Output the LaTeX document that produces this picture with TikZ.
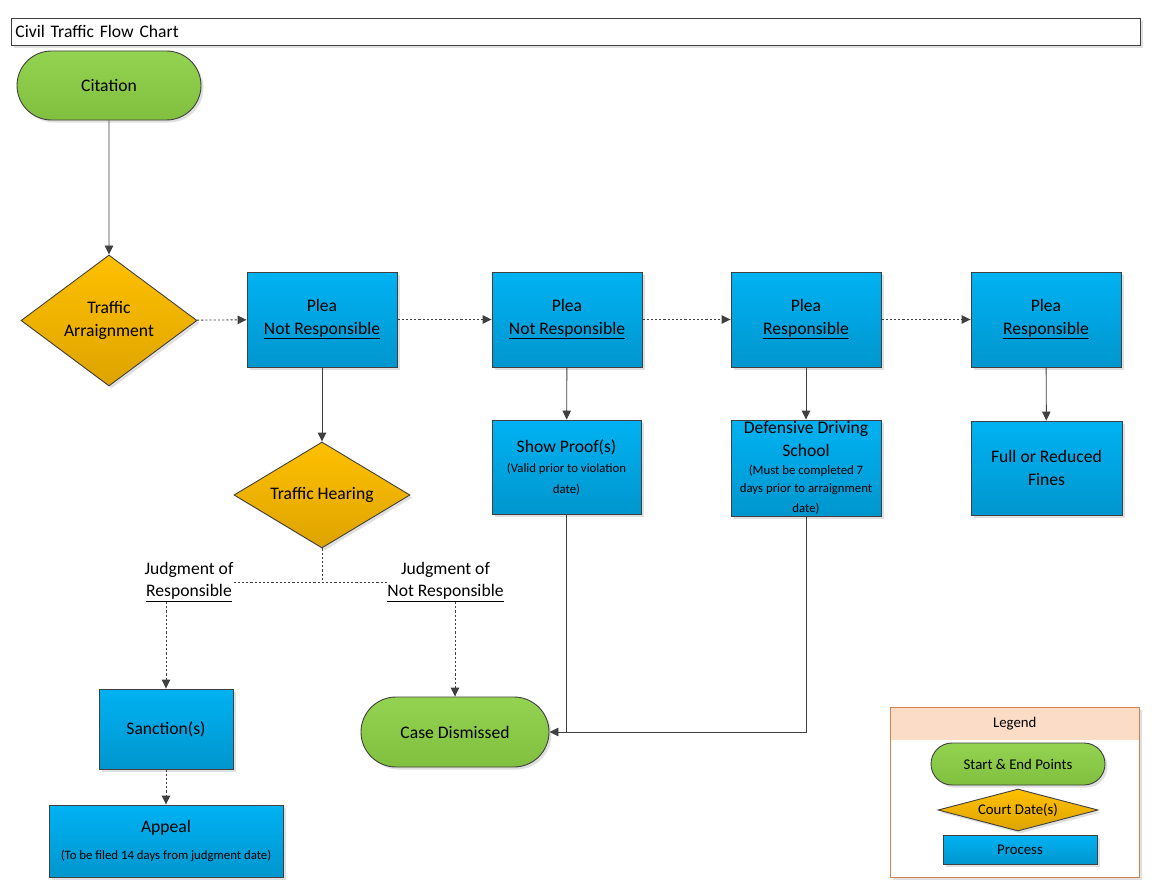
\documentclass[tikz,border=0pt]{standalone}
\usepackage{fontspec}
\setmainfont{Carlito}
\usepackage{tikz}
\usetikzlibrary{arrows.meta}
\usetikzlibrary{positioning, shapes.geometric, shapes.misc, shadows}
\definecolor{linegray}{HTML}{404040}
\definecolor{greentop}{HTML}{94D352}
\definecolor{greenbot}{HTML}{80C03E}
\definecolor{bluetop}{HTML}{00B2F2}
\definecolor{bluebot}{HTML}{0096CE}
\definecolor{ambertop}{HTML}{FFC000}
\definecolor{amberbot}{HTML}{DEA400}
\definecolor{legendline}{HTML}{D0834A}
\definecolor{legendpeach}{HTML}{FBDCC6}
\newcommand{\notefont}{\fontsize{12.8}{16}\selectfont}
\newcommand{\legendfont}{\fontsize{14.8}{18}\selectfont}
\tikzset{
soft shadow/.style = {drop shadow={shadow xshift=2.5pt,shadow yshift=-2.5pt,fill=black!20,opacity=0.6}},
start end/.style = { rounded rectangle, draw = linegray, line width = 0.9pt, top color = greentop, bottom color = greenbot, inner sep = 0pt, soft shadow },
court date/.style = { diamond, draw = linegray, line width = 0.9pt, top color = ambertop, bottom color = amberbot, inner sep = 0pt, align = center, soft shadow },
process/.style = { rectangle, draw = linegray, line width = 0.9pt, top color = bluetop, bottom color = bluebot, inner sep = 0pt, align = center, soft shadow },
plea/.style = { process, minimum width = 150pt, minimum height = 95pt },
outcome/.style = { inner sep = 0pt, align = center },
flow/.style = { draw = linegray, line width = 0.9pt, -{Triangle[length = 9pt, width = 8.5pt]} },
dot flow/.style = { flow, dash pattern = on 2.2pt off 2pt },
dot line/.style = { draw = linegray, line width = 0.9pt, dash pattern = on 2.2pt off 2pt },
}

\begin{document}
\begin{tikzpicture}[x = 1pt, y = -1pt, font = \fontsize{17.6}{22.5}\selectfont]
      \useasboundingbox (0, 0) rectangle (1159, 891);
      % title bar
      \node[draw = linegray, line width = 0.9pt, fill = white, soft shadow, anchor = north west, minimum width = 1129pt, minimum height = 27pt, text width = 1121pt, inner sep = 4pt, align = left] (title) at (11, 18) {Civil Traffic Flow Chart};
      % main flow
      \node[start end, minimum width = 184pt, minimum height = 69pt] (citation) at (109, 85.5) {Citation};
      \node[court date, minimum width = 176pt, minimum height = 131pt, aspect = 1.34] (arraign) at (109, 320.5) {Traffic\\Arraignment};
      \node[plea] (pleaA) at (322, 319.5) {Plea\\\underline{Not Responsible}};
      \node[plea] (pleaB) at (567, 319.5) {Plea\\\underline{Not Responsible}};
      \node[plea] (pleaC) at (806, 319.5) {Plea\\\underline{Responsible}};
      \node[plea] (pleaD) at (1046, 319.5) {Plea\\\underline{Responsible}};
      \node[court date, minimum width = 176pt, minimum height = 106pt, aspect = 1.66] (hearing) at (322, 495) {Traffic Hearing};
      \node[process, minimum width = 149pt, minimum height = 94pt] (proof) at (566.5, 467) {Show Proof(s)\\[-2pt]{\notefont (Valid prior to violation}\\[-2pt]{\notefont date)}};
      \node[process, minimum width = 150pt, minimum height = 96pt] (school) at (806, 468) {Defensive Driving\\School\\[-4pt]{\notefont (Must be completed 7}\\[-5pt]{\notefont days prior to arraignment}\\[-2pt]{\notefont date)}};
      \node[process, minimum width = 151pt, minimum height = 94pt] (fines) at (1046.5, 468) {Full or Reduced\\Fines};
      \node[outcome] (guilty) at (189, 582) {Judgment of\\\underline{Responsible}};
      \node[outcome] (cleared) at (445.5, 582) {Judgment of\\\underline{Not Responsible}};
      \node[process, minimum width = 134pt, minimum height = 80pt] (sanction) at (166, 729) {Sanction(s)};
      \node[process, minimum width = 234pt, minimum height = 72pt] (appeal) at (166, 841) {Appeal\\[4pt]{\notefont (To be filed 14 days from judgment date)}};
      \node[start end, minimum width = 188pt, minimum height = 70pt] (dismissed) at (455, 732) {Case Dismissed};
      % connectors
      \draw[flow] (citation) -- (arraign);
      \draw[dot flow] (arraign) -- (pleaA);
      \draw[dot flow] (pleaA) -- (pleaB);
      \draw[dot flow] (pleaB) -- (pleaC);
      \draw[dot flow] (pleaC) -- (pleaD);
      \draw[flow] (pleaA) -- (hearing);
      \draw[flow] (pleaB) -- (proof);
      \draw[flow] (pleaC) -- (school);
      \draw[flow] (pleaD) -- (fines);
      \draw[dot line] (hearing.south) -- (hearing.south |- guilty.east);
      \draw[dot line] (guilty.east) -- (cleared.west);
      \draw[dot flow] (sanction.north |- guilty.south) -- (sanction.north);
      \draw[dot flow] (dismissed.north |- cleared.south) -- (dismissed.north);
      \draw[dot flow] (sanction) -- (appeal);
      \draw[draw = linegray, line width = 0.9pt] (proof.south) -- (proof.south |- dismissed.east);
      \draw[flow] (school.south) |- (dismissed.east);
      % legend
      \node[draw = legendline, line width = 0.9pt, fill = white, soft shadow, anchor = north west, minimum width = 249pt, minimum height = 170pt] (legend) at (890, 707) {};
      \node[fill = legendpeach, anchor = north west, minimum width = 247.5pt, minimum height = 32pt, inner sep = 0pt, font = \legendfont] (legendtitle) at (890.8, 707.8) {Legend};
      \node[start end, minimum width = 174pt, minimum height = 42pt, font = \legendfont] (keystart) at (1018, 764) {Start \& End Points};
      \node[court date, minimum width = 160pt, minimum height = 42pt, aspect = 3.8, font = \legendfont] (keycourt) at (1018, 810) {Court Date(s)};
      \node[process, minimum width = 154pt, minimum height = 29pt, font = \legendfont] (keyprocess) at (1020, 849.5) {Process};
\end{tikzpicture}
\end{document}
